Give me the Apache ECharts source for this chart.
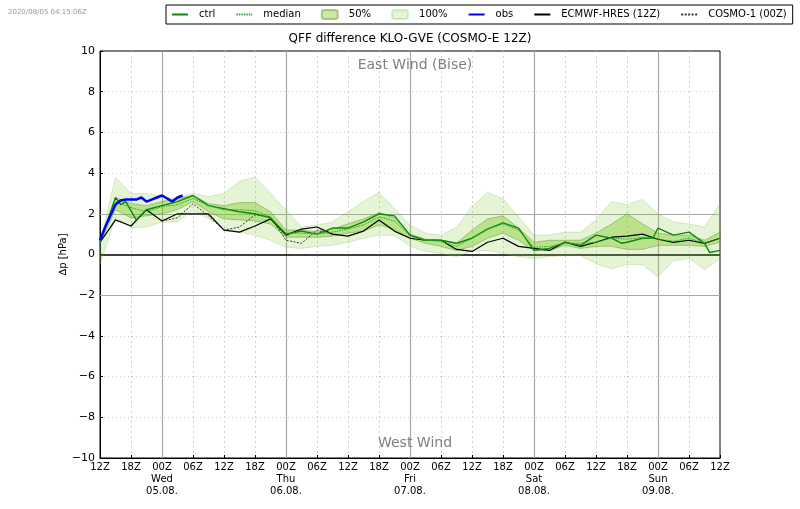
<!DOCTYPE html>
<html>
<head>
<meta charset="UTF-8">
<title>QFF difference KLO-GVE</title>
<script src="https://cdn.jsdelivr.net/npm/echarts@6/dist/echarts.min.js"></script>
<style>
	html, body { margin: 0; padding: 0; background: #fff; }
	#charts { width: 800px; height: 509px; }
</style>
<script type="text/javascript">

	// hours since Tue 12Z
	var hours = [0,3,6,9,12,15,18,21,24,27,30,33,36,39,42,45,48,51,54,57,60,63,66,69,72,75,78,81,84,87,90,93,96,99,102,105,108,111,114,117,120];

	var top100 = [0.5,3.8,3.0,3.0,2.85,2.75,3.0,2.85,3.0,3.6,3.8,3.0,2.2,1.35,1.45,1.6,2.1,2.6,3.05,2.25,1.45,1.05,0.95,1.35,2.35,3.05,2.75,1.85,0.95,0.95,1.1,1.1,1.7,2.6,2.45,2.7,2.0,1.6,1.5,1.35,2.5];
	var low100 = [-0.5,1.85,1.3,1.35,1.6,1.6,2.2,1.75,1.3,1.1,0.95,0.7,0.35,0.3,0.4,0.45,0.6,0.8,0.95,0.95,0.4,0.15,0.05,-0.1,0.15,0.2,0.05,-0.1,-0.2,-0.1,-0.05,-0.05,-0.45,-0.7,-0.5,-0.5,-1.1,-0.3,-0.2,-0.75,-0.2];
	var top50 = [0.55,2.8,2.5,2.4,2.6,2.75,2.9,2.5,2.4,2.55,2.55,2.1,1.2,1.2,1.1,1.25,1.5,1.75,2.05,1.8,1.0,0.75,0.7,0.55,1.2,1.75,1.9,1.3,0.6,0.7,0.7,0.7,1.05,1.5,2.0,1.5,1.05,0.95,0.95,0.7,1.1];
	var low50 = [0.55,2.2,1.8,1.9,2.0,2.2,2.6,2.1,1.75,1.7,1.65,1.5,0.85,0.85,0.85,0.9,1.05,1.15,1.45,1.25,0.8,0.55,0.4,0.2,0.4,0.8,1.05,0.7,0.2,0.2,0.45,0.3,0.4,0.4,0.25,0.25,0.45,0.45,0.45,0.4,0.6];
	var median = [0.55,2.6,2.3,2.1,2.35,2.45,2.75,2.4,2.2,2.2,2.15,1.85,1.05,1.05,1.0,1.1,1.25,1.45,1.85,1.65,0.9,0.7,0.65,0.4,0.8,1.25,1.5,1.2,0.35,0.4,0.55,0.55,0.6,0.8,0.75,0.85,0.75,0.65,0.8,0.55,0.8];
	var ecmwf = [0.6,1.7,1.4,2.2,1.65,2.0,2.0,2.0,1.2,1.1,1.4,1.75,0.95,1.25,1.35,1.0,0.9,1.15,1.7,1.15,0.8,0.7,0.7,0.25,0.15,0.6,0.8,0.4,0.3,0.2,0.6,0.4,0.6,0.85,0.9,1.0,0.75,0.6,0.7,0.55,0.8];

	var ctrlHours = [0,3,4,5,7,9,12,15,18,21,24,27,30,33,36,39,42,45,48,51,54,57,60,63,66,69,72,75,78,81,84,87,90,93,96,99,101,102,105,107,108,111,114,117,118,120];
	var ctrl = [0.6,2.8,2.45,2.6,1.7,2.2,2.4,2.6,2.9,2.4,2.25,2.1,2.0,1.8,1.0,1.15,1.0,1.3,1.3,1.6,2.0,1.9,0.95,0.7,0.7,0.55,0.8,1.25,1.55,1.3,0.2,0.3,0.6,0.45,0.95,0.8,0.55,0.6,0.8,0.8,1.3,0.95,1.1,0.55,0.1,0.2];

	var obsHours = [0,1,2,3,4,5,6,7,8,9,10,11,12,13,14,15,16];
	var obs = [0.7,1.35,1.9,2.45,2.65,2.7,2.7,2.7,2.8,2.6,2.7,2.8,2.9,2.75,2.6,2.8,2.9];

	var cosmoHours = [12,15,18,21,24,27,30,33,36,39,42,45];
	var cosmo = [1.65,1.8,2.5,1.9,1.2,1.35,1.95,1.85,0.7,0.55,1.2,1.0];

	var tickLabels = ['12Z','18Z','00Z\nWed\n05.08.','06Z','12Z','18Z','00Z\nThu\n06.08.','06Z','12Z','18Z','00Z\nFri\n07.08.','06Z','12Z','18Z','00Z\nSat\n08.08.','06Z','12Z','18Z','00Z\nSun\n09.08.','06Z','12Z'];
	var dayLines = [12,36,60,84,108];
	var solidLevels = [-2,2];

	var font = 'DejaVu Sans';

	function pairs(xs, ys) {
		var out = [];
		for (var i = 0; i < xs.length; i++) {
			out.push([xs[i], ys[i]]);
		}
		return out;
	}

	function bandSeries(name, lows, tops, fill, edge, z) {
		var rows = [];
		for (var i = 0; i < hours.length; i++) {
			rows.push([hours[i], lows[i], tops[i]]);
		}
		return {
			name: name,
			type: 'custom',
			z: z,
			silent: true,
			itemStyle: { color: fill, borderColor: edge, borderWidth: 1 },
			encode: { x: 0, y: [1, 2] },
			data: rows,
			renderItem: function (params, api) {
				if (params.dataIndex !== 0) {
					return null;
				}
				var pts = [];
				for (var i = 0; i < rows.length; i++) {
					pts.push(api.coord([rows[i][0], rows[i][2]]));
				}
				for (var j = rows.length - 1; j >= 0; j--) {
					pts.push(api.coord([rows[j][0], rows[j][1]]));
				}
				return {
					type: 'polygon',
					shape: { points: pts },
					style: { fill: fill, stroke: edge, lineWidth: 1 }
				};
			}
		};
	}

	function lineSeries(name, data, color, width, type, z) {
		return {
			name: name,
			type: 'line',
			z: z,
			showSymbol: false,
			symbol: 'none',
			silent: true,
			data: data,
			lineStyle: { color: color, width: width, type: type },
			itemStyle: { color: color }
		};
	}

	function lineKey(name) {
		return { name: name, itemStyle: { opacity: 0 } };
	}

	function refreshChart() {
		var chart = echarts.init(document.getElementById('charts'), null, { renderer: 'canvas' });

		var refLines = [];
		for (var i = 0; i < dayLines.length; i++) {
			refLines.push({ xAxis: dayLines[i], lineStyle: { color: '#a8a8a8', width: 1.2, type: 'solid' } });
		}
		for (var k = 0; k < solidLevels.length; k++) {
			refLines.push({ yAxis: solidLevels[k], lineStyle: { color: '#a8a8a8', width: 1.2, type: 'solid' } });
		}
		refLines.push({ yAxis: 0, lineStyle: { color: '#000', width: 1.5, type: 'solid' } });

		var option = {
			animation: false,
			backgroundColor: '#fff',
			textStyle: { fontFamily: font },
			title: [
				{ text: '2020/08/05 04:15:06Z', left: 3, top: 4, textStyle: { fontFamily: font, fontSize: 7, fontWeight: 'normal', color: '#999' } },
				{ text: 'QFF difference KLO-GVE (COSMO-E 12Z)', left: 405, top: 28, textAlign: 'center', textStyle: { fontFamily: font, fontSize: 12, fontWeight: 'normal', color: '#000' } },
				{ text: 'East Wind (Bise)', left: 410, top: 53, textAlign: 'center', textStyle: { fontFamily: font, fontSize: 14, fontWeight: 'normal', color: '#808080' } },
				{ text: 'West Wind', left: 410, top: 431, textAlign: 'center', textStyle: { fontFamily: font, fontSize: 14, fontWeight: 'normal', color: '#808080' } }
			],
			legend: {
				left: 166,
				top: 5,
				width: 640,
				padding: [4, 6, 4, 5],
				itemGap: 20,
				itemWidth: 16,
				itemHeight: 9,
				borderColor: '#000',
				borderWidth: 1,
				selectedMode: false,
				textStyle: { fontFamily: font, fontSize: 10, color: '#000', padding: [0, 0, 0, 6] },
				data: [lineKey('ctrl'), lineKey('median'), '50%', '100%', lineKey('obs'), lineKey('ECMWF-HRES (12Z)'), lineKey('COSMO-1 (00Z)')]
			},
			grid: { left: 100, right: 80, top: 51, bottom: 51, show: true, borderColor: '#000', borderWidth: 1, backgroundColor: 'transparent' },
			xAxis: {
				type: 'value',
				min: 0,
				max: 120,
				interval: 6,
				axisLine: { onZero: false, lineStyle: { color: '#000' } },
				axisTick: { inside: true, length: 3, lineStyle: { color: '#000' } },
				axisLabel: {
					color: '#000',
					fontSize: 10,
					margin: 3,
					lineHeight: 12,
					hideOverlap: false,
					showMinLabel: true,
					showMaxLabel: true,
					formatter: function (v) { return tickLabels[v / 6]; }
				},
				splitLine: { show: true, showMinLine: false, showMaxLine: false, lineStyle: { color: '#cfcfcf', width: 1, type: [2, 3] } }
			},
			yAxis: {
				type: 'value',
				min: -10,
				max: 10,
				interval: 2,
				name: '\u2206p [hPa]',
				nameLocation: 'middle',
				nameGap: 32,
				nameMoveOverlap: false,
				nameTextStyle: { fontSize: 10, color: '#000' },
				axisLine: { lineStyle: { color: '#000' } },
				axisTick: { inside: true, length: 3, lineStyle: { color: '#000' } },
				axisLabel: {
					color: '#000',
					fontSize: 11,
					margin: 5,
					formatter: function (v) { return String(v).replace('-', '\u2212'); }
				},
				splitLine: { show: true, showMinLine: false, showMaxLine: false, lineStyle: { color: '#cfcfcf', width: 1, type: [1, 3] } }
			},
			series: [
				bandSeries('100%', low100, top100, 'rgba(130,205,60,0.22)', 'rgba(120,180,80,0.25)', 2),
				bandSeries('50%', low50, top50, 'rgba(120,200,30,0.4)', 'rgba(100,140,50,0.45)', 3),
				lineSeries('COSMO-1 (00Z)', pairs(cosmoHours, cosmo), '#333', 1, [2, 1.5], 4),
				lineSeries('ECMWF-HRES (12Z)', pairs(hours, ecmwf), '#000', 1.2, 'solid', 5),
				lineSeries('ctrl', pairs(ctrlHours, ctrl), '#0a8a0a', 1.4, 'solid', 6),
				lineSeries('median', pairs(hours, median), '#2fa82f', 1, [1.5, 1], 6),
				lineSeries('obs', pairs(obsHours, obs), '#0000ff', 2.5, 'solid', 7),
				{
					type: 'line',
					z: 1,
					silent: true,
					data: [],
					markLine: { silent: true, symbol: 'none', animation: false, label: { show: false }, z: 1, data: refLines }
				}
			]
		};

		chart.setOption(option);
	}

	window.onload = function() {
		refreshChart();
	}
</script>
</head>
<body>
	<div id="charts"></div>
</body>
</html>
